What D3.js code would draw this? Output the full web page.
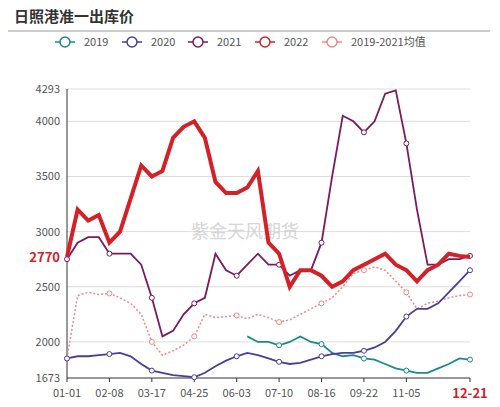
<!DOCTYPE html><html><head><meta charset="utf-8"><script src="https://cdn.jsdelivr.net/npm/d3@7"></script>
<style>body{margin:0;background:#fff;font-family:"Microsoft YaHei","Noto Sans CJK SC",sans-serif}</style></head><body><svg id="c" width="500" height="407"></svg><script>
const tickLabels=["01-01","02-08","03-17","04-25","06-03","07-10","08-16","09-22","11-05"];
const tickIdx=[0,24,48,72,96,120,144,168,192];
const lastLabel="12-21", lastIdx=228, step=6;
const yTicks=[1673,2000,2500,3000,3500,4000,4293];
const names=["2019","2020","2021","2022","2019-2021均值"];
const colors=["#1a8a8a","#4b3d9a","#7b1a5e","#d42027","#f08888"];
const s2019=[null,null,null,null,null,null,null,null,null,null,null,null,null,null,null,null,null,2050,2000,2000,1970,2000,2050,2000,1980,1900,1870,1880,1850,1840,1800,1760,1740,1720,1720,1760,1800,1850,1840];
const s2020=[1850,1870,1870,1880,1890,1900,1870,1800,1740,1720,1700,1690,1680,1720,1780,1830,1870,1900,1880,1850,1820,1800,1810,1840,1870,1890,1900,1900,1920,1950,2000,2100,2230,2300,2300,2350,2450,2550,2650];
const s2021=[2750,2900,2950,2950,2800,2800,2800,2700,2400,2050,2100,2250,2350,2400,2800,2650,2600,2700,2800,2700,2700,2600,2650,2650,2900,3500,4050,4000,3900,4000,4250,4280,3800,3200,2700,2700,2750,2750,2780];
const s2022=[2770,3200,3100,3150,2900,3000,3300,3600,3500,3550,3850,3950,4000,3850,3450,3350,3350,3400,3550,2900,2800,2500,2650,2650,2600,2500,2550,2650,2700,2750,2800,2700,2650,2550,2650,2700,2800,2780,2770];
const sAvg=[1850,2420,2450,2430,2440,2400,2350,2250,2000,1880,1920,1970,2050,2250,2220,2230,2240,2210,2250,2220,2180,2200,2250,2300,2350,2400,2500,2620,2650,2680,2650,2550,2450,2300,2350,2370,2400,2420,2430];
const series=[s2019,s2020,s2021,s2022,sAvg];
const svg=d3.select("#c");
svg.append("text").attr("x",14).attr("y",22).attr("font-size",15).attr("font-weight","bold").attr("fill","#333").text("日照港准一出库价");
svg.append("line").attr("x1",8).attr("x2",490).attr("y1",31).attr("y2",31).attr("stroke","#999");
const x=d3.scaleLinear().domain([0,lastIdx]).range([67,470]);
const y=d3.scaleLinear().domain([1673,4293]).range([378,89]);
const g=svg.append("g");
yTicks.forEach(t=>{if(t!==1673)g.append("line").attr("x1",67).attr("x2",470).attr("y1",y(t)).attr("y2",y(t)).attr("stroke","#ddd");
 g.append("text").attr("x",60).attr("y",y(t)+4).attr("text-anchor","end").attr("font-size",11).attr("fill","#555").text(t);});
g.append("line").attr("x1",67).attr("x2",67).attr("y1",89).attr("y2",378).attr("stroke","#333");
g.append("line").attr("x1",67).attr("x2",470).attr("y1",378).attr("y2",378).attr("stroke","#333");
tickIdx.concat([lastIdx]).forEach((t,i)=>{g.append("line").attr("x1",x(t)).attr("x2",x(t)).attr("y1",378).attr("y2",382).attr("stroke","#333");});
tickIdx.forEach((t,i)=>g.append("text").attr("x",x(t)).attr("y",397).attr("text-anchor","middle").attr("font-size",11).attr("fill","#555").text(tickLabels[i]));
g.append("text").attr("x",x(lastIdx)).attr("y",398).attr("text-anchor","middle").attr("font-size",13).attr("font-weight","bold").attr("fill","#d42027").text(lastLabel);
svg.append("text").attr("x",245).attr("y",238).attr("text-anchor","middle").attr("font-size",18).attr("fill","#ccc").attr("opacity",0.8).text("紫金天风期货");
const order=[4,0,1,2,3];
order.forEach(k=>{const d=series[k].map((v,i)=>[i*step,v]);
 const line=d3.line().defined(p=>p[1]!=null).x(p=>x(p[0])).y(p=>y(p[1])).curve(d3.curveLinear);
 svg.append("path").attr("d",line(d)).attr("fill","none").attr("stroke",colors[k]).attr("stroke-width",k===3?4:k===4?1.5:1.8).attr("stroke-dasharray",k===4?"2,2":null);
 tickIdx.concat([lastIdx]).forEach(t=>{const v=series[k][t/step];if(v!=null&&k!==3)svg.append("circle").attr("cx",x(t)).attr("cy",y(v)).attr("r",2.5).attr("fill","#fff").attr("stroke",colors[k]);});
});
svg.append("text").attr("x",60).attr("y",y(2770)+5).attr("text-anchor","end").attr("font-size",13).attr("font-weight","bold").attr("fill","#d42027").text("2770");
const lx=[55,122,188,255,322];
names.forEach((n,i)=>{const L=svg.append("g").attr("transform",`translate(${lx[i]},42)`);
 L.append("line").attr("x1",0).attr("x2",20).attr("stroke",colors[i]).attr("stroke-width",1.5);
 L.append("circle").attr("cx",10).attr("r",5).attr("fill","#fff").attr("stroke",colors[i]).attr("stroke-width",1.5);
 L.append("text").attr("x",29).attr("y",4).attr("font-size",11).attr("fill","#555").text(n);});
</script></body></html>
